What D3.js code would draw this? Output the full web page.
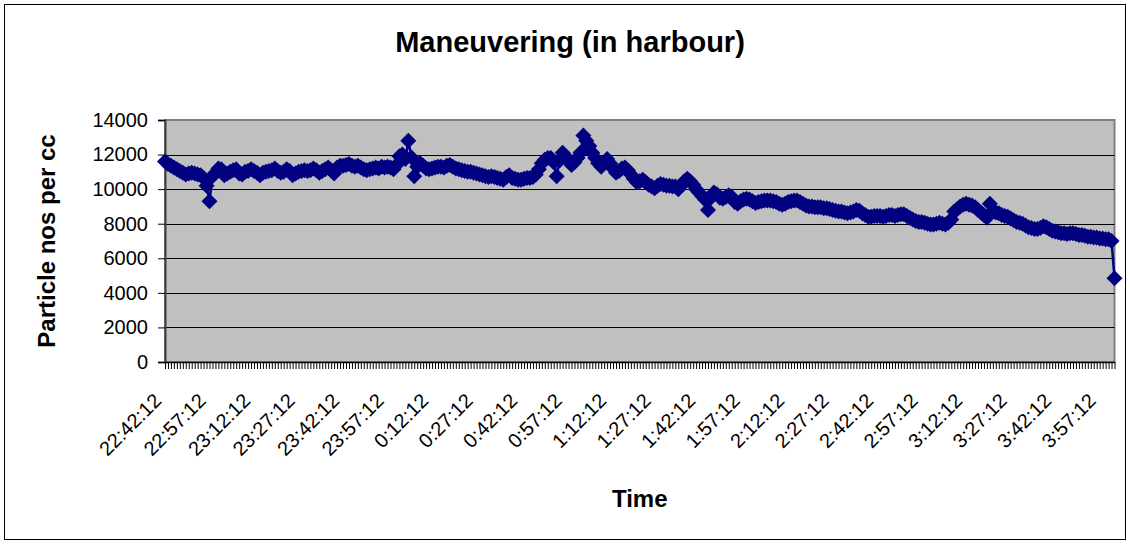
<!DOCTYPE html>
<html>
<head>
<meta charset="utf-8">
<script src="https://d3js.org/d3.v7.min.js"></script>
<style>
  body { margin: 0; background: #fff; }
  svg text { font-family: Arial, "Liberation Sans", sans-serif; fill: #000; }
  .title { font-size: 29px; font-weight: bold; }
  .axis-label { font-size: 24px; font-weight: bold; }
  .tick text { font-size: 20px; }
</style>
</head>
<body>
<svg id="chart" width="1130" height="544"></svg>
<script>
// 1. Data (one reading per minute, from 22:42:12)
const startTime = "22:42:12";
const values = [
  11600, 11450, 11350, 11250, 11150, 11050, 10950, 10850, 10900, 10950, 10900, 10850, 10800, 10650, 10200,
  9300, 10750, 10950, 11200, 11150, 10800, 10900, 11000, 11100, 11150, 10900, 10850, 11000, 11050, 11150,
  11050, 10950, 10800, 10950, 11000, 11050, 11100, 11200, 11050, 10950, 11000, 11150, 11050, 10800, 10900,
  11000, 11050, 11100, 11050, 11100, 11200, 11100, 10950, 11050, 11150, 11250, 11100, 10900, 11250, 11350,
  11350, 11400, 11450, 11350, 11300, 11350, 11250, 11150, 11100, 11150, 11200, 11250, 11200, 11300, 11250,
  11300, 11250, 11150, 11400, 11900, 12000, 11750, 12800, 11850, 10750, 11300, 11500, 11350, 11200, 11150,
  11200, 11250, 11300, 11300, 11250, 11350, 11400, 11300, 11200, 11150, 11100, 11050, 11000, 11000, 10950,
  10900, 10850, 10800, 10750, 10700, 10750, 10700, 10650, 10600, 10550, 10700, 10800, 10650, 10600, 10550,
  10550, 10600, 10650, 10650, 10700, 10850, 11150, 11500, 11700, 11800, 11800, 11550, 10750, 11650, 12100,
  11900, 11650, 11400, 11550, 11800, 12100, 13100, 12800, 12500, 12100, 11800, 11500, 11300, 11550, 11750,
  11500, 11200, 10950, 11050, 11200, 11250, 11100, 10850, 10600, 10400, 10450, 10550, 10400, 10250, 10150,
  10050, 10200, 10300, 10250, 10200, 10200, 10150, 10150, 10000, 10200, 10450, 10600, 10450, 10250, 10000,
  9800, 9600, 9400, 8800, 9500, 9800, 9700, 9500, 9450, 9550, 9650, 9550, 9250, 9150, 9300,
  9400, 9450, 9400, 9300, 9200, 9250, 9300, 9350, 9350, 9350, 9300, 9250, 9150, 9100, 9150,
  9250, 9300, 9350, 9350, 9250, 9150, 9050, 9000, 9000, 8950, 8950, 8950, 8900, 8900, 8850,
  8800, 8750, 8700, 8700, 8650, 8600, 8650, 8700, 8800, 8750, 8600, 8500, 8400, 8400, 8450,
  8450, 8450, 8400, 8450, 8500, 8500, 8450, 8500, 8550, 8550, 8450, 8350, 8250, 8150, 8100,
  8100, 8050, 8000, 7950, 7950, 8000, 8050, 8000, 7950, 8050, 8250, 8700, 8850, 9000, 9100,
  9150, 9100, 9050, 8950, 8800, 8650, 8500, 8350, 9150, 8750, 8650, 8600, 8500, 8450, 8400,
  8300, 8200, 8100, 8050, 8000, 7900, 7800, 7750, 7700, 7700, 7750, 7850, 7800, 7700, 7600,
  7550, 7500, 7450, 7450, 7400, 7450, 7450, 7400, 7350, 7350, 7300, 7250, 7250, 7200, 7200,
  7150, 7150, 7100, 7100, 7000, 4850
];
const tickLabels = [
  "22:42:12", "22:57:12", "23:12:12", "23:27:12", "23:42:12", "23:57:12",
  "0:12:12", "0:27:12", "0:42:12", "0:57:12", "1:12:12", "1:27:12",
  "1:42:12", "1:57:12", "2:12:12", "2:27:12", "2:42:12", "2:57:12",
  "3:12:12", "3:27:12", "3:42:12", "3:57:12"
];
const yTicks = [0, 2000, 4000, 6000, 8000, 10000, 12000, 14000];

const parseTime = d3.timeParse("%H:%M:%S");
const formatTime = d3.timeFormat("%-H:%M:%S");
const t0 = parseTime(startTime);
const categories = values.map((v, i) => formatTime(d3.timeMinute.offset(t0, i)));
const labelSet = new Set(tickLabels);

// 2. Dimensions
const dms = {
  width: 1130,
  height: 544,
  marginTop: 120,
  marginLeft: 165,
  boundedWidth: 949.5,
  boundedHeight: 242,
};

const svg = d3.select("#chart");

// chart area border
svg.append("rect")
  .attr("x", 4.5).attr("y", 4.5)
  .attr("width", 1121).attr("height", 535)
  .attr("fill", "#fff")
  .attr("stroke", "#000")
  .attr("stroke-width", 1);

const bounds = svg.append("g")
  .attr("transform", `translate(${dms.marginLeft}, ${dms.marginTop})`);

// 3. Scales
const xScale = d3.scalePoint()
  .domain(categories)
  .range([0, dms.boundedWidth]);

const yScale = d3.scaleLinear()
  .domain([0, 14000])
  .range([dms.boundedHeight, 0]);

// 4. Plot area + gridlines
bounds.append("rect")
  .attr("width", dms.boundedWidth)
  .attr("height", dms.boundedHeight)
  .attr("fill", "#c0c0c0")
  .attr("stroke", "#808080")
  .attr("stroke-width", 2);

bounds.selectAll(".grid")
  .data(yTicks.slice(1, -1))
  .enter()
  .append("line")
  .attr("class", "grid")
  .attr("x1", 0)
  .attr("x2", dms.boundedWidth)
  .attr("y1", (d) => Math.round(yScale(d)) + 0.5)
  .attr("y2", (d) => Math.round(yScale(d)) + 0.5)
  .attr("stroke", "#000")
  .attr("stroke-width", 1);

// 5. Axes
const yAxisGenerator = d3.axisLeft(yScale)
  .tickValues(yTicks)
  .tickSize(7)
  .tickPadding(10)
  .tickFormat(d3.format("d"));

const yAxis = bounds.append("g").call(yAxisGenerator);
yAxis.select(".domain").attr("stroke", "#404040").attr("stroke-width", 2);

const xAxisGenerator = d3.axisBottom(xScale)
  .tickSize(7)
  .tickSizeOuter(0)
  .tickFormat((d) => (labelSet.has(d) ? d : ""));

const xAxis = bounds.append("g")
  .attr("transform", `translate(0, ${dms.boundedHeight})`)
  .call(xAxisGenerator);

xAxis.select(".domain").attr("stroke", "#000").attr("stroke-width", 1.5);
xAxis.selectAll(".tick line").attr("stroke", "#000").attr("stroke-width", 1);
xAxis.selectAll(".tick text")
  .attr("text-anchor", "end")
  .attr("dy", null)
  .attr("y", 0)
  .attr("transform", "translate(-3, 40) rotate(-45)");

// 6. Series line + diamond markers
const lineGenerator = d3.line()
  .x((d, i) => xScale(categories[i]))
  .y((d) => yScale(d));

bounds.append("path")
  .attr("d", lineGenerator(values))
  .attr("fill", "none")
  .attr("stroke", "#000080")
  .attr("stroke-width", 2.5);

const diamond = d3.symbol().type(d3.symbolSquare).size(128);

bounds.selectAll(".marker")
  .data(values)
  .enter()
  .append("path")
  .attr("class", "marker")
  .attr("d", diamond)
  .attr("transform", (d, i) => `translate(${xScale(categories[i])}, ${yScale(d)}) rotate(45)`)
  .attr("fill", "#000080");

// 7. Titles
svg.append("text")
  .attr("class", "title")
  .attr("x", 570)
  .attr("y", 52)
  .attr("text-anchor", "middle")
  .text("Maneuvering (in harbour)");

svg.append("text")
  .attr("class", "axis-label")
  .attr("transform", `translate(55, ${dms.marginTop + dms.boundedHeight / 2}) rotate(-90)`)
  .attr("text-anchor", "middle")
  .text("Particle nos per cc");

svg.append("text")
  .attr("class", "axis-label")
  .attr("x", dms.marginLeft + dms.boundedWidth / 2)
  .attr("y", 507)
  .attr("text-anchor", "middle")
  .text("Time");
</script>
</body>
</html>
